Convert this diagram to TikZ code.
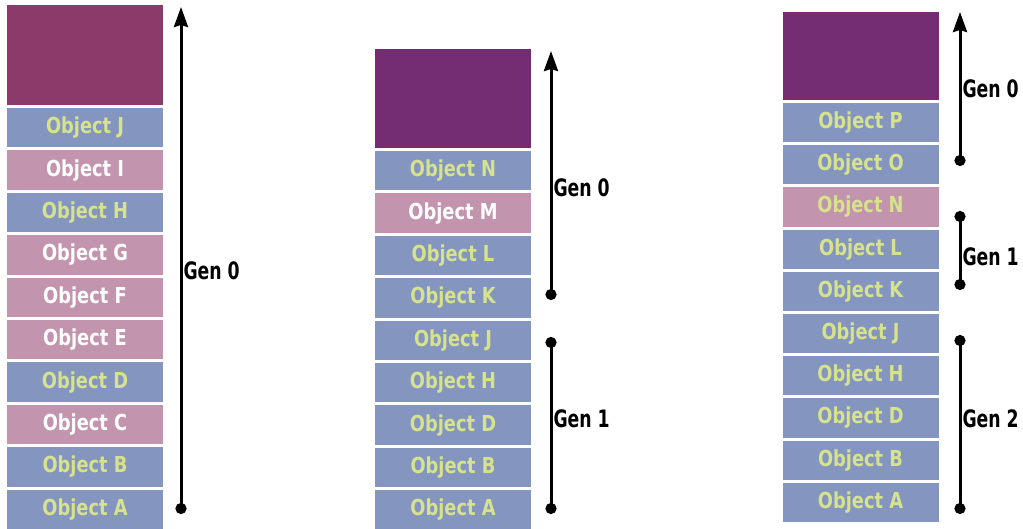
\documentclass[tikz,border=0pt]{standalone}
\usepackage{fontspec}
\setmainfont{DejaVu Sans Condensed}[FakeStretch=0.9]
\newfontfamily\genfont{DejaVu Sans Condensed}[FakeStretch=0.8]
\usepackage{xcolor}
\usepackage{tikz}
\usetikzlibrary{arrows.meta,positioning}

\definecolor{oldheap}{HTML}{8B3A6A}
\definecolor{newheap}{HTML}{742D72}
\definecolor{liveobj}{HTML}{8496C0}
\definecolor{deadobj}{HTML}{C394AE}
\definecolor{objtext}{HTML}{D6E28C}

\begin{document}
\begin{tikzpicture}[
    x=1pt, y=-1pt,
    node distance=2.6pt,
    free/.style={rectangle, minimum width=156pt, inner sep=0pt},
    obj/.style={rectangle, fill=liveobj, minimum width=156pt, minimum height=39.4pt,
        inner sep=0pt, font=\fontsize{22}{22}\selectfont\bfseries, text=objtext},
    garbage/.style={obj, fill=deadobj, text=white},
    genline/.style={line width=3pt},
    genopen/.style={genline, {Circle[length=11pt]}-{Stealth[length=20pt,width=14pt,inset=2pt]}},
    genspan/.style={genline, {Circle[length=11pt]}-{Circle[length=11pt]}},
    genlabel/.style={right, inner sep=1pt, font=\genfont\fontsize{24}{24}\selectfont\bfseries}
]
\useasboundingbox[fill=white] (0,0) rectangle (1023,529);

% first heap
\node[free, fill=oldheap, minimum height=100pt] (h1top) at (85,55) {};
\node[obj, below=of h1top] (h1j) {Object J};
\node[garbage, below=of h1j] (h1i) {Object I};
\node[obj, below=of h1i] (h1h) {Object H};
\node[garbage, below=of h1h] (h1g) {Object G};
\node[garbage, below=of h1g] (h1f) {Object F};
\node[garbage, below=of h1f] (h1e) {Object E};
\node[obj, below=of h1e] (h1d) {Object D};
\node[garbage, below=of h1d] (h1c) {Object C};
\node[obj, below=of h1c] (h1b) {Object B};
\node[obj, below=of h1b] (h1a) {Object A};

% second heap
\node[free, fill=newheap, minimum height=99pt] (h2top) at (453,98.5) {};
\node[obj, below=of h2top] (h2n) {Object N};
\node[garbage, below=of h2n] (h2m) {Object M};
\node[obj, below=of h2m] (h2l) {Object L};
\node[obj, below=of h2l] (h2k) {Object K};
\node[obj, below=of h2k] (h2j) {Object J};
\node[obj, below=of h2j] (h2h) {Object H};
\node[obj, below=of h2h] (h2d) {Object D};
\node[obj, below=of h2d] (h2b) {Object B};
\node[obj, below=of h2b] (h2a) {Object A};

% third heap
\node[free, fill=newheap, minimum height=88pt] (h3top) at (860.5,56) {};
\node[obj, minimum height=39.2pt, below=of h3top] (h3p) {Object P};
\node[obj, minimum height=39.2pt, below=of h3p] (h3o) {Object O};
\node[garbage, minimum height=39.2pt, text=objtext, below=of h3o] (h3n) {Object N};
\node[obj, minimum height=39.2pt, below=of h3n] (h3l) {Object L};
\node[obj, minimum height=39.2pt, below=of h3l] (h3k) {Object K};
\node[obj, minimum height=39.2pt, below=of h3k] (h3j) {Object J};
\node[obj, minimum height=39.2pt, below=of h3j] (h3h) {Object H};
\node[obj, minimum height=39.2pt, below=of h3h] (h3d) {Object D};
\node[obj, minimum height=39.2pt, below=of h3d] (h3b) {Object B};
\node[obj, minimum height=39.2pt, below=of h3b] (h3a) {Object A};

% generation markers
\coordinate (g1top) at (181,7);
\coordinate (g1bot) at (181,514);
\coordinate (g2top) at (551,51);
\coordinate (g2mid) at (551,300);
\coordinate (g2one) at (551,337);
\coordinate (g2bot) at (551,514);
\coordinate (g3top) at (960,12);
\coordinate (g3mid) at (960,166);
\coordinate (g3one) at (960,211);
\coordinate (g3two) at (960,290);
\coordinate (g3gen) at (960,335);
\coordinate (g3bot) at (960,514);

\draw[genopen] (g1bot) -- (g1top) node[genlabel, pos=0.48] {Gen 0};
\draw[genopen] (g2mid) -- (g2top) node[genlabel, pos=0.45] {Gen 0};
\draw[genspan] (g2bot) -- (g2one) node[genlabel, pos=0.54] {Gen 1};
\draw[genopen] (g3mid) -- (g3top) node[genlabel, midway] {Gen 0};
\draw[genspan] (g3two) -- (g3one) node[genlabel, pos=0.42] {Gen 1};
\draw[genspan] (g3bot) -- (g3gen) node[genlabel, pos=0.53] {Gen 2};

\end{tikzpicture}
\end{document}
